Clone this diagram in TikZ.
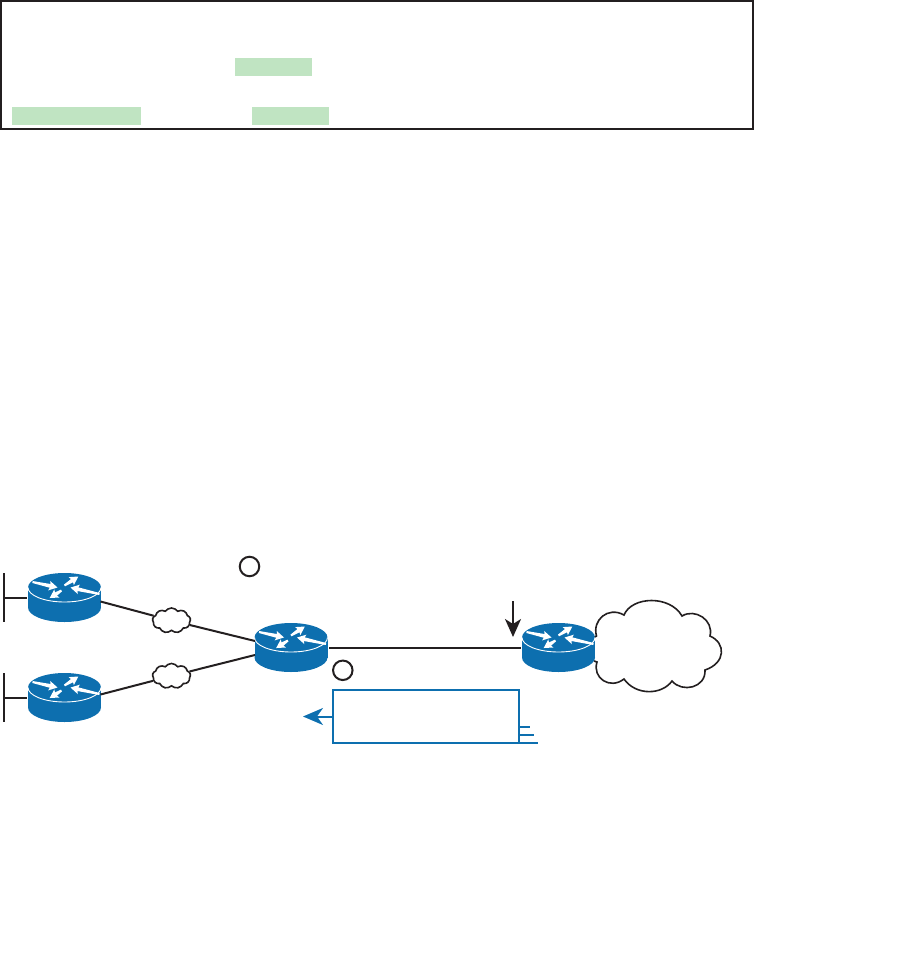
\documentclass[tikz,border=0pt]{standalone}
\usetikzlibrary{arrows.meta,shapes.symbols}
\definecolor{inkblack}{HTML}{231F20}
\definecolor{ciscoblue}{HTML}{0D6FAF}
\definecolor{hilite}{HTML}{C0E4C2}
\tikzset{
  link/.style={draw=inkblack,line width=2pt},
  bluelink/.style={draw=ciscoblue,line width=2pt},
  routernode/.style={minimum width=73pt,minimum height=49pt,inner sep=0pt,outer sep=0pt},
  hibox/.style={fill=hilite,inner sep=0pt,outer sep=0pt,minimum height=18pt},
  marker/.style={circle,draw=inkblack,line width=2pt,minimum size=19.5pt,inner sep=0pt,fill=white},
  smallcloud/.style={cloud,cloud puffs=9,cloud puff arc=110,aspect=1.45,draw=inkblack,line width=1.6pt,fill=white,inner sep=0pt,minimum width=38pt,minimum height=25pt}
}
% wedge arrow: start point, visual angle, length
\newcommand{\wedgearrow}[3]{%
  \fill[white,shift={(#1)},rotate=#2] (0,-1) -- ({#3-7.5},-1.9) -- ({#3-8.5},-4.8) -- (#3,0) -- ({#3-8.5},4.8) -- ({#3-7.5},1.9) -- (0,1) -- cycle;}
\newcommand{\routericon}[2]{%
  \node[routernode] (#1) at (#2) {};
  \begin{scope}[shift={(#2)}]
    \fill[ciscoblue] (0,10) ellipse [x radius=36.5,y radius=14.5];
    \fill[ciscoblue] (-36.5,-10) rectangle (36.5,10);
    \fill[ciscoblue] (0,-10) ellipse [x radius=36.5,y radius=14.5];
    \draw[white,line width=0.9pt] (-36.5,-10) arc [start angle=180,end angle=0,x radius=36.5,y radius=14.5];
    \wedgearrow{-32,-15.5}{-12.4}{25.6}
    \wedgearrow{0,-12}{33}{16.5}
    \wedgearrow{35,-3.5}{167.4}{29.7}
    \wedgearrow{-3,-7}{212.5}{14}
  \end{scope}}
\begin{document}
\begin{tikzpicture}[x=1pt,y=-1pt]
\useasboundingbox (0,0) rectangle (918,977);
% top panel
\node[draw=inkblack,line width=2pt,minimum width=752pt,minimum height=128pt,inner sep=0pt,outer sep=0pt] (panel) at (377,65) {};
\node[hibox,minimum width=77pt] (hiA) at (273.5,67) {};
\node[hibox,minimum width=129pt] (hiB) at (76.5,116) {};
\node[hibox,minimum width=77pt] (hiC) at (290.5,116) {};
% routers
\routericon{r1}{64.5,597.5}
\routericon{r2}{64.5,697.5}
\routericon{r3}{291,647.5}
\routericon{r4}{558.5,647.5}
% small clouds
\node[smallcloud] (c1) at (171.5,620.5) {};
\node[smallcloud] (c2) at (171.5,676) {};
% LAN stubs
\coordinate (lan1t) at (4,573); \coordinate (lan1b) at (4,622); \coordinate (lan1m) at (4,597.5);
\coordinate (lan2t) at (4,673); \coordinate (lan2b) at (4,722); \coordinate (lan2m) at (4,697.5);
\draw[link] (lan1t) -- (lan1b);
\draw[link] (lan2t) -- (lan2b);
\draw[link] (lan1m) -- ([xshift=-1pt]r1.west);
\draw[link] (lan2m) -- ([xshift=-1pt]r2.west);
% links
\draw[link] ([xshift=-0.5pt,yshift=-4pt]r1.east) -- (c1);
\draw[link] ([xshift=-0.5pt,yshift=3pt]r2.east) -- (c2);
\draw[link] (c1) -- ([xshift=0.5pt,yshift=6.5pt]r3.west);
\draw[link] (c2) -- ([xshift=0.5pt,yshift=-7.5pt]r3.west);
\draw[link] ([xshift=1.5pt]r3.east) -- ([xshift=-1pt]r4.west);
% markers
\node[marker] (m1) at (249.5,566.5) {};
\node[marker] (m2) at (342.8,670.3) {};
% annotation arrow
\coordinate (dn) at (513,601);
\coordinate (dnend) at (513,637);
\draw[draw=inkblack,fill=inkblack,line width=2pt,-{Stealth[width=16pt,length=18pt,inset=5pt]}] (dn) -- (dnend);
% big cloud
\draw[draw=inkblack,line width=1.6pt] (595,637) -- (596.5,636)
  .. controls (592,620) and (608,606) .. (624,615)
  .. controls (632,596) and (670,595) .. (682,616)
  .. controls (695,608) and (714,620) .. (710,636)
  .. controls (726,643) and (726,663) .. (705,670)
  .. controls (706,688) and (682,693) .. (672,681)
  .. controls (662,695) and (636,696) .. (624,679)
  .. controls (610,690) and (592,678) .. (597,662)
  -- (594,661);
% blue box
\node[draw=ciscoblue,line width=2pt,minimum width=186pt,minimum height=53pt,inner sep=0pt,outer sep=0pt] (bb) at (426,716.5) {};
\coordinate (bbtip) at (303,716.5);
\draw[bluelink,-{Stealth[width=17pt,length=20pt,inset=6pt]}] (bb.west) -- (bbtip);
\coordinate (s1) at (530,727); \coordinate (s2) at (534,735); \coordinate (s3) at (538,743);
\draw[bluelink] (bb.east |- s1) -- (s1);
\draw[bluelink] (bb.east |- s2) -- (s2);
\draw[bluelink] (bb.south east) -- (s3);
\end{tikzpicture}
\end{document}
